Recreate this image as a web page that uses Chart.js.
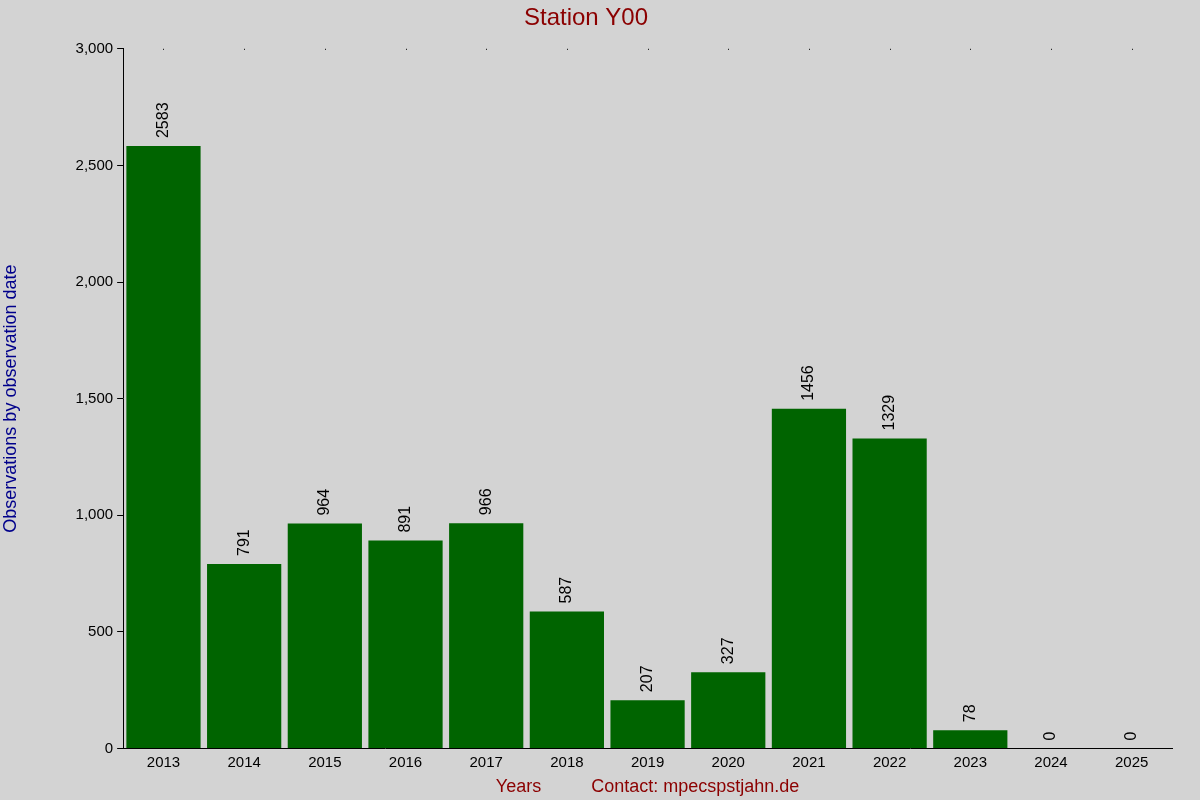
<!DOCTYPE html>
<html><head><meta charset="utf-8">
<script src="https://cdn.jsdelivr.net/npm/chart.js@4/dist/chart.umd.min.js"></script>
<style>html,body{margin:0;padding:0;background:#d3d3d3}#w{width:1200px;height:800px}</style>
</head><body><div id="w"><canvas id="c"></canvas></div>
<script>
const years = ['2013','2014','2015','2016','2017','2018','2019','2020','2021','2022','2023','2024','2025'];
const counts = [2583,791,964,891,966,587,207,327,1456,1329,78,0,0];
const yTicks = [0,500,1000,1500,2000,2500,3000];

const labelPlugin = {
  id:'lbl',
  afterDatasetsDraw(chart){
    const ctx=chart.ctx, meta=chart.getDatasetMeta(0);
    ctx.save();
    ctx.font='16px "Liberation Sans", Arial, sans-serif';
    ctx.fillStyle='#000';
    ctx.textAlign='left'; ctx.textBaseline='middle';
    meta.data.forEach((b,i)=>{
      ctx.save();
      ctx.translate(b.x, b.y-8);
      ctx.rotate(-Math.PI/2);
      ctx.fillText(String(counts[i]),0,0);
      ctx.restore();
    });
    // top dots
    const top=chart.chartArea.top;
    meta.data.forEach(b=>{ctx.fillRect(Math.round(b.x),top,1,1);});
    ctx.restore();
  }
};

new Chart(document.getElementById('c'),{
  type:'bar',
  data:{labels:years,datasets:[{data:counts,backgroundColor:'#006400',barPercentage:0.92,categoryPercentage:1}]},
  options:{
    responsive:true,maintainAspectRatio:false,animation:false,
    layout:{padding:{top:0,right:28,bottom:0,left:0}},
    plugins:{legend:{display:false},tooltip:{enabled:false},
      title:{display:true,text:'Station Y00',color:'#8b0000',font:{size:24,family:'"Liberation Sans", Arial',weight:'normal'},padding:{top:4,bottom:16}}},
    scales:{
      x:{grid:{display:false,drawTicks:false},border:{color:'#000'},
        ticks:{color:'#000',font:{size:15,family:'"Liberation Sans", Arial'},padding:5},
        title:{display:true,text:'Years          Contact: mpecspstjahn.de',color:'#8b0000',font:{size:18,family:'"Liberation Sans", Arial'},padding:{top:0,bottom:2}}},
      y:{min:0,max:3000,afterBuildTicks(s){s.ticks=yTicks.map(v=>({value:v}));},
        grid:{drawOnChartArea:false,drawTicks:true,tickLength:6,color:'#000'},border:{color:'#000'},
        ticks:{color:'#000',font:{size:15,family:'"Liberation Sans", Arial'},padding:4},
        title:{display:true,text:'Observations by observation date',color:'#00008b',font:{size:18,family:'"Liberation Sans", Arial'},padding:{top:0,bottom:50}}}
    }
  },
  plugins:[labelPlugin]
});
</script></body></html>
